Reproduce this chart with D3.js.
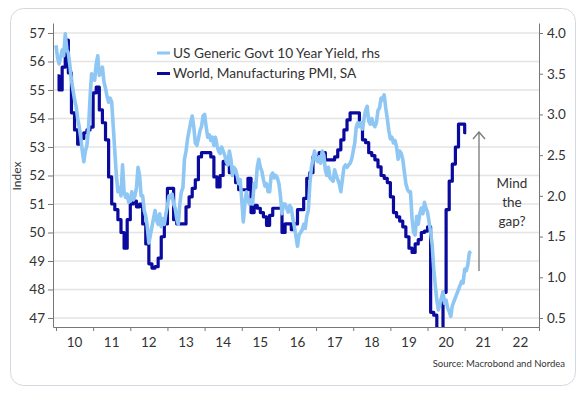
<!DOCTYPE html>
<html>
<head>
<meta charset="utf-8">
<script src="https://cdn.jsdelivr.net/npm/d3@7"></script>
<style>
  body { margin: 0; background: #fff; }
  svg text { font-family: Lato, "Open Sans", sans-serif; fill: #333; }
</style>
</head>
<body>
<div class="chart"></div>
<script>
// x axis labels (year, 2 digits) and tick values
var xLabels = ["10","11","12","13","14","15","16","17","18","19","20","21","22"];
var leftTicks = [47, 48, 49, 50, 51, 52, 53, 54, 55, 56, 57];
var rightTicks = [0.5, 1.0, 1.5, 2.0, 2.5, 3.0, 3.5, 4.0];

// World manufacturing PMI, monthly from Jan 2010
var pmi2010 = [55.5, 55.0, 55.8, 56.75, 55.6, 54.2, 53.6, 53.1, 53.3, 53.5, 53.6, 53.7];
var pmi2011 = [54.9, 55.1, 54.3, 53.85, 53.25, 51.95, 51.0, 50.8, 50.45, 50.0, 49.45, 50.45];
var pmi2012 = [51.0, 51.1, 50.9, 51.0, 50.3, 49.6, 48.9, 48.75, 48.8, 49.1, 49.85, 50.3];
var pmi2013 = [51.55, 51.55, 50.45, 50.3, 50.3, 50.3, 50.9, 51.25, 51.55, 51.85, 52.65, 52.8];
var pmi2014 = [52.8, 52.8, 52.65, 51.95, 51.6, 52.0, 52.5, 52.4, 52.1, 52.05, 51.75, 51.5];
var pmi2015 = [51.5, 51.5, 51.9, 50.7, 50.95, 50.85, 50.7, 50.55, 50.25, 50.6, 50.85, 50.85];
var pmi2016 = [50.85, 50.0, 50.3, 50.3, 50.1, 50.3, 50.8, 50.8, 51.2, 51.9, 52.1, 52.65];
var pmi2017 = [52.65, 52.8, 52.8, 52.55, 52.55, 52.55, 52.65, 52.9, 53.25, 53.6, 53.95, 54.2];
var pmi2018 = [54.2, 54.2, 53.85, 53.25, 53.15, 52.8, 52.7, 52.55, 52.3, 52.0, 51.9, 51.75];
var pmi2019 = [51.25, 50.7, 50.55, 50.4, 50.2, 49.85, 49.45, 49.3, 49.6, 49.75, 50.0, 50.05];
var pmi2020 = [50.2, 47.2, 47.1, 39.6, 42.4, 47.9, 50.8, 51.8, 52.4, 53.0, 53.8, 53.8];
var pmi2021 = [53.5];

// US generic govt 10y yield (%), twice a month from Jan 2010
var yld2010 = [3.85, 3.70, 3.62, 3.70, 3.79, 3.72, 3.99, 3.80, 3.75, 3.60, 3.42, 3.30, 3.18, 3.10, 2.95, 2.85, 2.72, 2.55, 2.42, 2.55, 2.62, 2.82, 3.20, 3.50];
var yld2011 = [3.45, 3.42, 3.62, 3.72, 3.48, 3.50, 3.58, 3.40, 3.32, 3.22, 3.15, 3.20, 3.15, 2.85, 2.55, 2.25, 2.05, 2.10, 2.00, 2.38, 2.05, 1.98, 2.02, 1.92];
var yld2012 = [1.95, 2.05, 1.95, 2.00, 2.10, 2.35, 2.25, 2.00, 2.00, 1.82, 1.75, 1.62, 1.42, 1.52, 1.62, 1.72, 1.82, 1.70, 1.65, 1.78, 1.62, 1.72, 1.65, 1.78];
var yld2013 = [1.88, 2.00, 1.98, 2.02, 1.90, 1.85, 1.72, 1.65, 1.90, 2.05, 2.10, 2.45, 2.55, 2.70, 2.80, 2.90, 2.98, 2.85, 2.65, 2.62, 2.70, 2.80, 2.85, 2.98];
var yld2014 = [3.00, 2.85, 2.72, 2.75, 2.68, 2.72, 2.62, 2.72, 2.62, 2.55, 2.52, 2.60, 2.55, 2.50, 2.42, 2.38, 2.55, 2.45, 2.25, 2.35, 2.32, 2.25, 2.15, 2.20];
var yld2015 = [1.95, 1.68, 1.90, 2.05, 1.95, 1.90, 1.95, 1.90, 2.15, 2.10, 2.35, 2.45, 2.35, 2.30, 2.20, 2.12, 2.15, 2.05, 2.05, 2.25, 2.28, 2.22, 2.25, 2.22];
var yld2016 = [2.15, 2.00, 1.78, 1.90, 1.90, 1.85, 1.80, 1.88, 1.85, 1.72, 1.62, 1.50, 1.38, 1.52, 1.55, 1.58, 1.65, 1.60, 1.75, 1.82, 2.15, 2.35, 2.45, 2.55];
var yld2017 = [2.45, 2.42, 2.48, 2.40, 2.55, 2.50, 2.32, 2.25, 2.35, 2.22, 2.20, 2.18, 2.32, 2.25, 2.20, 2.15, 2.05, 2.20, 2.35, 2.38, 2.35, 2.38, 2.40, 2.45];
var yld2018 = [2.55, 2.65, 2.85, 2.90, 2.85, 2.90, 2.82, 2.95, 3.05, 3.10, 2.92, 2.88, 2.95, 2.88, 2.85, 2.90, 3.05, 3.08, 3.20, 3.18, 3.24, 3.08, 2.95, 2.80];
var yld2019 = [2.70, 2.72, 2.65, 2.68, 2.60, 2.45, 2.55, 2.52, 2.45, 2.30, 2.15, 2.08, 2.05, 2.05, 1.72, 1.55, 1.52, 1.75, 1.65, 1.78, 1.85, 1.78, 1.92, 1.85];
var yld2020 = [1.80, 1.68, 1.55, 1.40, 1.10, 0.90, 0.72, 0.60, 0.68, 0.75, 0.82, 0.68, 0.72, 0.62, 0.58, 0.52, 0.65, 0.70, 0.75, 0.80, 0.85, 0.90, 0.95, 0.93];
var yld2021 = [1.10, 1.08, 1.15, 1.30, 1.32];

var pmi = [].concat(pmi2010, pmi2011, pmi2012, pmi2013, pmi2014, pmi2015, pmi2016, pmi2017, pmi2018, pmi2019, pmi2020, pmi2021);
var yld = [].concat(yld2010, yld2011, yld2012, yld2013, yld2014, yld2015, yld2016, yld2017, yld2018, yld2019, yld2020, yld2021);

var svg = d3.select(".chart").append("svg").attr("width", 584).attr("height", 393);

//card frame
svg.append("rect").attr("x", 10.5).attr("y", 8.5).attr("width", 565).attr("height", 377)
  .attr("rx", 13).attr("fill", "#fff").attr("stroke", "#d3d9e0").attr("stroke-width", 1);

var plotL = 53, plotR = 539, plotT = 23, plotB = 327;

// year as a decimal number on the x axis
var x = d3.scaleLinear().domain([2009.92, 2023]).range([plotL, plotR]);
var yL = d3.scaleLinear().domain([46.684, 57.35]).range([plotB, plotT]);
var yR = d3.scaleLinear().domain([0.5 - 0.316 * 0.35, 4.0 + 0.351 * 0.35]).range([plotB, plotT]);

//gridlines
svg.append("g").selectAll("line").data(leftTicks).enter().append("line")
  .attr("x1", plotL).attr("x2", plotR)
  .attr("y1", function(d) { return yL(d); }).attr("y2", function(d) { return yL(d); })
  .attr("stroke", "#e4e4e4").attr("stroke-width", 1.5);

svg.append("clipPath").attr("id", "plot").append("rect")
  .attr("x", plotL).attr("y", plotT).attr("width", plotR - plotL).attr("height", plotB - plotT);

var plot = svg.append("g").attr("clip-path", "url(#plot)");

var pmiLine = d3.line()
  .x(function(d, i) { return x(2010 + (i + 0.5) / 12); })
  .y(function(d) { return yL(d); })
  .curve(d3.curveStep);

var yldLine = d3.line()
  .x(function(d, i) { return x(2010 + i / 24); })
  .y(function(d) { return yR(d); });

plot.append("path").attr("d", pmiLine(pmi)).attr("fill", "none")
  .attr("stroke", "#0a0a9e").attr("stroke-width", 3.2).attr("stroke-linejoin", "round");

plot.append("path").attr("d", yldLine(yld)).attr("fill", "none")
  .attr("stroke", "#8ec6f4").attr("stroke-width", 3.6).attr("stroke-linejoin", "round");

//axes
var yAxisL = d3.axisLeft(yL).tickValues(leftTicks).tickSize(5).tickSizeOuter(0).tickPadding(3);
var yAxisR = d3.axisRight(yR).tickValues(rightTicks).tickSize(4).tickSizeOuter(0).tickPadding(4)
  .tickFormat(d3.format(".1f"));
var years = xLabels.map(function(d) { return 2000 + +d; }).concat([2023]);
var xAxis = d3.axisBottom(x).tickValues(years).tickSize(4).tickSizeOuter(0).tickFormat("");

var gL = svg.append("g").attr("transform", "translate(" + plotL + ",0)").call(yAxisL);
var gR = svg.append("g").attr("transform", "translate(" + plotR + ",0)").call(yAxisR);
var gX = svg.append("g").attr("transform", "translate(0," + plotB + ")").call(xAxis);

[gL, gR, gX].forEach(function(g) {
  g.select(".domain").attr("stroke", "#777");
  g.selectAll(".tick line").attr("stroke", "#777");
  g.selectAll("text").attr("font-size", 13.5).attr("fill", "#333")
    .attr("font-family", "Lato, 'Open Sans', sans-serif");
});

svg.append("g").selectAll("text").data(xLabels).enter().append("text")
  .attr("x", function(d) { return x(2000 + +d + 0.5); })
  .attr("y", 347)
  .attr("text-anchor", "middle").attr("font-size", 13.5)
  .text(function(d) { return d; });

svg.append("text").attr("transform", "translate(21,176) rotate(-90)")
  .attr("text-anchor", "middle").attr("font-size", 12).text("Index");

//legend
var legend = [
  {name: "US Generic Govt 10 Year Yield, rhs", color: "#8ec6f4"},
  {name: "World, Manufacturing PMI, SA", color: "#0a0a9e"}
];
var lg = svg.append("g").selectAll("g").data(legend).enter().append("g")
  .attr("transform", function(d, i) { return "translate(157," + (53 + i * 20.5) + ")"; });
lg.append("line").attr("x1", 0).attr("x2", 13).attr("stroke", function(d) { return d.color; })
  .attr("stroke-width", 3);
lg.append("text").attr("x", 16).attr("y", 4.5).attr("font-size", 13.7).text(function(d) { return d.name; });

//annotation
var arrow = svg.append("g").attr("stroke", "#777").attr("stroke-width", 1.3).attr("fill", "none");
arrow.append("line").attr("x1", 479).attr("x2", 479).attr("y1", 271).attr("y2", 132);
arrow.append("path").attr("d", "M473,139 L479,132 L485,139");

var note = ["Mind", "the", "gap?"];
svg.append("g").selectAll("text").data(note).enter().append("text")
  .attr("x", 512).attr("y", function(d, i) { return 188 + i * 19; })
  .attr("text-anchor", "middle").attr("font-size", 13.5).text(function(d) { return d; });

svg.append("text").attr("x", 565).attr("y", 367).attr("text-anchor", "end")
  .attr("font-size", 9.5).text("Source: Macrobond and Nordea");
</script>
</body>
</html>
